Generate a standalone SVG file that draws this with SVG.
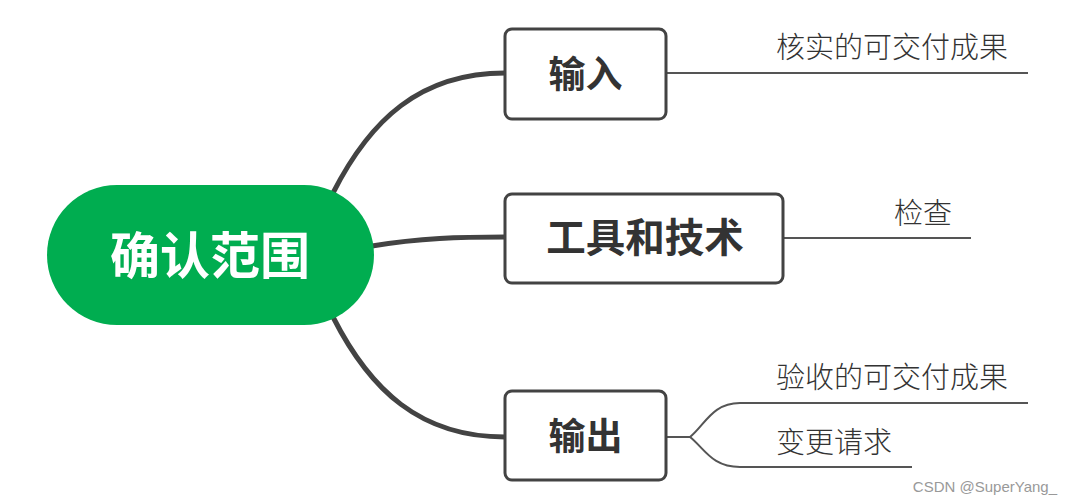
<svg xmlns="http://www.w3.org/2000/svg" width="1072" height="504" viewBox="0 0 1072 504">
<style>
.main{fill:none;stroke:#434343;stroke-width:5;stroke-linecap:round}
.sub{fill:none;stroke:#555;stroke-width:2}
.box{fill:#fff;stroke:#434343;stroke-width:3}
.bt{font-family:"Noto Sans CJK SC",sans-serif;font-weight:700;fill:#333;text-anchor:middle}
.lt{font-family:"Noto Sans CJK SC",sans-serif;font-weight:300;fill:#333;font-size:29px}
</style>
<rect width="1072" height="504" fill="#fff"/>
<g id="connectors">
<path class="main" d="M333 193 C370 120 420 73 505 73"/>
<path class="main" d="M372 246 C420 238 460 237 505 237"/>
<path class="main" d="M333 317 C370 390 420 437 505 437"/>
<path class="sub" d="M666 73 H1028"/>
<path class="sub" d="M783 238 H971"/>
<path class="sub" d="M666 437 H690 C705 425 712 403 740 403 H1028"/>
<path class="sub" d="M690 437 C705 449 712 467 740 467 H912"/>
</g>
<g id="center">
<rect x="47" y="185" width="327" height="140" rx="70" fill="#00AD50"/>
<text x="210" y="274" font-family="Noto Sans CJK SC,sans-serif" font-weight="700" font-size="50" fill="#fff" text-anchor="middle">确认范围</text>
</g>
<g id="input">
<rect class="box" x="505" y="29" width="161" height="90" rx="7"/>
<text class="bt" x="585.5" y="88" font-size="37">输入</text>
</g>
<g id="tools">
<rect class="box" x="505" y="194" width="278" height="89" rx="7"/>
<text class="bt" x="645" y="252" font-size="39.5">工具和技术</text>
</g>
<g id="output">
<rect class="box" x="505" y="391" width="161" height="89" rx="7"/>
<text class="bt" x="585.5" y="450" font-size="37">输出</text>
</g>
<g id="leaf1"><text class="lt" x="776" y="58">核实的可交付成果</text></g>
<g id="leaf2"><text class="lt" x="894" y="224">检查</text></g>
<g id="leaf3"><text class="lt" x="776" y="388">验收的可交付成果</text></g>
<g id="leaf4"><text class="lt" x="776" y="453">变更请求</text></g>
<text x="1057" y="492" font-family="Liberation Sans,sans-serif" font-size="15" fill="#999" text-anchor="end">CSDN @SuperYang_</text>
</svg>
